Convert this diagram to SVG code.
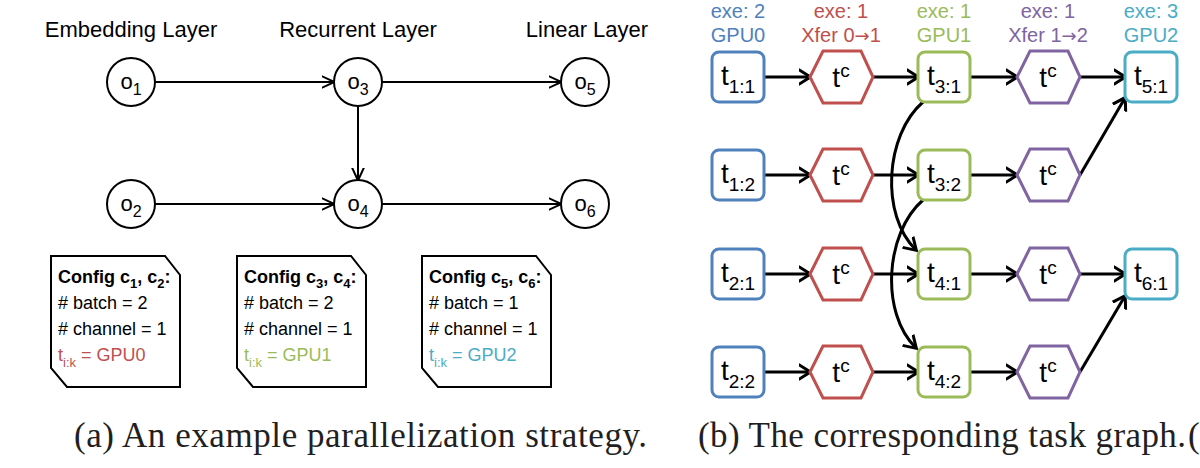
<svg xmlns="http://www.w3.org/2000/svg" width="1200" height="468" viewBox="0 0 1200 468">
<style>
.lbl{font-family:"Liberation Sans",Arial,sans-serif;font-size:22px;fill:#000;text-anchor:middle;}
.circ{fill:#fff;stroke:#000;stroke-width:2;}
.otxt{font-family:"Liberation Sans",Arial,sans-serif;font-size:22px;fill:#000;text-anchor:middle;}
.cfg{fill:#fff;stroke:#000;stroke-width:2;}
.ctxt{font-family:"Liberation Sans",Arial,sans-serif;font-size:18px;fill:#000;}
.ctxt.red{fill:#c0504d;}
.ctxt.green{fill:#9bbb59;}
.ctxt.cyan{fill:#4bacc6;}
.lc{fill:none;stroke:#000;stroke-width:2;}
.rc{fill:none;stroke:#000;stroke-width:3;}
.box{fill:#fff;stroke-width:3;}
.ttxt{font-family:"Liberation Sans",Arial,sans-serif;font-size:28px;fill:#000;text-anchor:middle;}
.top{font-family:"Liberation Sans",Arial,sans-serif;font-size:20px;text-anchor:middle;}
.arr{font-family:"DejaVu Sans",sans-serif;font-size:18px;}
.cap{font-family:"Liberation Serif","Times New Roman",serif;font-size:35px;fill:#231f20;}
</style>
<defs>
<marker id="la" markerUnits="userSpaceOnUse" markerWidth="16" markerHeight="20" viewBox="0 0 16 20" refX="12.5" refY="10" orient="auto">
<path d="M0,4 L13,10 L0,16" fill="none" stroke="#000" stroke-width="2"/>
</marker>
<marker id="ra" markerUnits="userSpaceOnUse" markerWidth="16" markerHeight="20" viewBox="0 0 16 20" refX="11.5" refY="10" orient="auto">
<path d="M0,2.5 L12,10 L0,17.5" fill="none" stroke="#000" stroke-width="3"/>
</marker>
</defs>
<rect width="1200" height="468" fill="#fff"/>

<!-- Left panel labels -->
<text class="lbl" x="131" y="37">Embedding Layer</text>
<text class="lbl" x="358" y="37">Recurrent Layer</text>
<text class="lbl" x="587" y="37">Linear Layer</text>

<g id="left-connectors">
<line class="lc" x1="155" y1="82" x2="334" y2="82" marker-end="url(#la)"/>
<line class="lc" x1="382" y1="82" x2="561" y2="82" marker-end="url(#la)"/>
<line class="lc" x1="155" y1="204" x2="334" y2="204" marker-end="url(#la)"/>
<line class="lc" x1="382" y1="204" x2="561" y2="204" marker-end="url(#la)"/>
<line class="lc" x1="358" y1="106" x2="358" y2="180" marker-end="url(#la)"/>
</g>

<g id="o1"><circle class="circ" cx="131" cy="82" r="24"/><text class="otxt" x="131" y="89">o<tspan font-size="16" dy="6">1</tspan></text></g>
<g id="o2"><circle class="circ" cx="131" cy="204" r="24"/><text class="otxt" x="131" y="211">o<tspan font-size="16" dy="6">2</tspan></text></g>
<g id="o3"><circle class="circ" cx="358" cy="82" r="24"/><text class="otxt" x="358" y="89">o<tspan font-size="16" dy="6">3</tspan></text></g>
<g id="o4"><circle class="circ" cx="358" cy="204" r="24"/><text class="otxt" x="358" y="211">o<tspan font-size="16" dy="6">4</tspan></text></g>
<g id="o5"><circle class="circ" cx="585" cy="82" r="24"/><text class="otxt" x="585" y="89">o<tspan font-size="16" dy="6">5</tspan></text></g>
<g id="o6"><circle class="circ" cx="585" cy="204" r="24"/><text class="otxt" x="585" y="211">o<tspan font-size="16" dy="6">6</tspan></text></g>

<g id="config1">
<path class="cfg" d="M51,256 H165 L180,275 V387 H67 L51,368 Z"/>
<text class="ctxt" x="58" y="283" font-weight="bold">Config c<tspan font-size="13" dy="5">1</tspan><tspan dy="-5">, c</tspan><tspan font-size="13" dy="5">2</tspan><tspan dy="-5">:</tspan></text>
<text class="ctxt" x="58" y="309"># batch = 2</text>
<text class="ctxt" x="58" y="335"># channel = 1</text>
<text class="ctxt red" x="58" y="361">t<tspan font-size="13" dy="6">i:k</tspan><tspan dy="-6"> = GPU0</tspan></text>
</g>
<g id="config2">
<path class="cfg" d="M237,256 H351 L366,275 V387 H253 L237,368 Z"/>
<text class="ctxt" x="244" y="283" font-weight="bold">Config c<tspan font-size="13" dy="5">3</tspan><tspan dy="-5">, c</tspan><tspan font-size="13" dy="5">4</tspan><tspan dy="-5">:</tspan></text>
<text class="ctxt" x="244" y="309"># batch = 2</text>
<text class="ctxt" x="244" y="335"># channel = 1</text>
<text class="ctxt green" x="244" y="361">t<tspan font-size="13" dy="6">i:k</tspan><tspan dy="-6"> = GPU1</tspan></text>
</g>
<g id="config3">
<path class="cfg" d="M422,256 H536 L551,275 V387 H438 L422,368 Z"/>
<text class="ctxt" x="429" y="283" font-weight="bold">Config c<tspan font-size="13" dy="5">5</tspan><tspan dy="-5">, c</tspan><tspan font-size="13" dy="5">6</tspan><tspan dy="-5">:</tspan></text>
<text class="ctxt" x="429" y="309"># batch = 1</text>
<text class="ctxt" x="429" y="335"># channel = 1</text>
<text class="ctxt cyan" x="429" y="361">t<tspan font-size="13" dy="6">i:k</tspan><tspan dy="-6"> = GPU2</tspan></text>
</g>

<!-- Right panel header labels -->
<g id="headers">
<text class="top" x="738" y="18" fill="#4f81bd">exe: 2</text>
<text class="top" x="738" y="42" fill="#4f81bd">GPU0</text>
<text class="top" x="841" y="18" fill="#c0504d">exe: 1</text>
<text class="top" x="841" y="42" fill="#c0504d">Xfer 0<tspan class="arr">→</tspan>1</text>
<text class="top" x="944" y="18" fill="#9bbb59">exe: 1</text>
<text class="top" x="944" y="42" fill="#9bbb59">GPU1</text>
<text class="top" x="1048" y="18" fill="#8064a2">exe: 1</text>
<text class="top" x="1048" y="42" fill="#8064a2">Xfer 1<tspan class="arr">→</tspan>2</text>
<text class="top" x="1151" y="18" fill="#4bacc6">exe: 3</text>
<text class="top" x="1151" y="42" fill="#4bacc6">GPU2</text>
</g>

<g id="right-connectors">
<line class="rc" x1="764" y1="77" x2="810" y2="77" marker-end="url(#ra)"/>
<line class="rc" x1="873" y1="77" x2="918" y2="77" marker-end="url(#ra)"/>
<line class="rc" x1="971" y1="77" x2="1017" y2="77" marker-end="url(#ra)"/>
<line class="rc" x1="1080" y1="77" x2="1125" y2="77" marker-end="url(#ra)"/>
<line class="rc" x1="764" y1="175" x2="810" y2="175" marker-end="url(#ra)"/>
<line class="rc" x1="873" y1="175" x2="918" y2="175" marker-end="url(#ra)"/>
<line class="rc" x1="971" y1="175" x2="1017" y2="175" marker-end="url(#ra)"/>
<line class="rc" x1="1080" y1="175" x2="1125" y2="98" marker-end="url(#ra)"/>
<line class="rc" x1="764" y1="274" x2="810" y2="274" marker-end="url(#ra)" stroke-width="3.5"/>
<line class="rc" x1="873" y1="274" x2="918" y2="274" marker-end="url(#ra)" stroke-width="3.5"/>
<line class="rc" x1="971" y1="274" x2="1017" y2="274" marker-end="url(#ra)" stroke-width="3.5"/>
<line class="rc" x1="1080" y1="274" x2="1125" y2="274" marker-end="url(#ra)" stroke-width="3.5"/>
<line class="rc" x1="764" y1="372" x2="810" y2="372" marker-end="url(#ra)" stroke-width="3.5"/>
<line class="rc" x1="873" y1="372" x2="918" y2="372" marker-end="url(#ra)" stroke-width="3.5"/>
<line class="rc" x1="971" y1="372" x2="1017" y2="372" marker-end="url(#ra)"/>
<line class="rc" x1="1080" y1="372" x2="1125" y2="296" marker-end="url(#ra)"/>
<path class="rc" d="M923,102 C885,135 880,215 916,250" marker-end="url(#ra)"/>
<path class="rc" d="M923,200 C885,233 880,313 916,348" marker-end="url(#ra)"/>
</g>

<!-- Row 1 -->
<g id="t1_1"><rect class="box" x="712" y="52" width="52" height="50" rx="7" stroke="#4f81bd"/><text class="ttxt" x="738" y="85">t<tspan font-size="19" dy="8">1:1</tspan></text></g>
<g id="x01_1"><polygon class="box" points="810,77 823,51 861,51 873,77 861,103 823,103" stroke="#c0504d"/><text class="ttxt" x="841" y="87">t<tspan font-size="19" dy="-10">c</tspan></text></g>
<g id="t3_1"><rect class="box" x="918" y="52" width="52" height="50" rx="7" stroke="#9bbb59"/><text class="ttxt" x="944" y="85">t<tspan font-size="19" dy="8">3:1</tspan></text></g>
<g id="x12_1"><polygon class="box" points="1017,77 1030,51 1068,51 1080,77 1068,103 1030,103" stroke="#8064a2"/><text class="ttxt" x="1048" y="87">t<tspan font-size="19" dy="-10">c</tspan></text></g>
<g id="t5_1"><rect class="box" x="1125" y="52" width="52" height="50" rx="7" stroke="#4bacc6"/><text class="ttxt" x="1151" y="85">t<tspan font-size="19" dy="8">5:1</tspan></text></g>

<!-- Row 2 -->
<g id="t1_2"><rect class="box" x="712" y="150" width="52" height="50" rx="7" stroke="#4f81bd"/><text class="ttxt" x="738" y="183">t<tspan font-size="19" dy="8">1:2</tspan></text></g>
<g id="x01_2"><polygon class="box" points="810,175 823,149 861,149 873,175 861,201 823,201" stroke="#c0504d"/><text class="ttxt" x="841" y="185">t<tspan font-size="19" dy="-10">c</tspan></text></g>
<g id="t3_2"><rect class="box" x="918" y="150" width="52" height="50" rx="7" stroke="#9bbb59"/><text class="ttxt" x="944" y="183">t<tspan font-size="19" dy="8">3:2</tspan></text></g>
<g id="x12_2"><polygon class="box" points="1017,175 1030,149 1068,149 1080,175 1068,201 1030,201" stroke="#8064a2"/><text class="ttxt" x="1048" y="185">t<tspan font-size="19" dy="-10">c</tspan></text></g>

<!-- Row 3 -->
<g id="t2_1"><rect class="box" x="712" y="249" width="52" height="50" rx="7" stroke="#4f81bd"/><text class="ttxt" x="738" y="282">t<tspan font-size="19" dy="8">2:1</tspan></text></g>
<g id="x01_3"><polygon class="box" points="810,274 823,248 861,248 873,274 861,300 823,300" stroke="#c0504d"/><text class="ttxt" x="841" y="284">t<tspan font-size="19" dy="-10">c</tspan></text></g>
<g id="t4_1"><rect class="box" x="918" y="249" width="52" height="50" rx="7" stroke="#9bbb59"/><text class="ttxt" x="944" y="282">t<tspan font-size="19" dy="8">4:1</tspan></text></g>
<g id="x12_3"><polygon class="box" points="1017,274 1030,248 1068,248 1080,274 1068,300 1030,300" stroke="#8064a2"/><text class="ttxt" x="1048" y="284">t<tspan font-size="19" dy="-10">c</tspan></text></g>
<g id="t6_1"><rect class="box" x="1125" y="249" width="52" height="50" rx="7" stroke="#4bacc6"/><text class="ttxt" x="1151" y="282">t<tspan font-size="19" dy="8">6:1</tspan></text></g>

<!-- Row 4 -->
<g id="t2_2"><rect class="box" x="712" y="347" width="52" height="50" rx="7" stroke="#4f81bd"/><text class="ttxt" x="738" y="380">t<tspan font-size="19" dy="8">2:2</tspan></text></g>
<g id="x01_4"><polygon class="box" points="810,372 823,346 861,346 873,372 861,398 823,398" stroke="#c0504d"/><text class="ttxt" x="841" y="382">t<tspan font-size="19" dy="-10">c</tspan></text></g>
<g id="t4_2"><rect class="box" x="918" y="347" width="52" height="50" rx="7" stroke="#9bbb59"/><text class="ttxt" x="944" y="380">t<tspan font-size="19" dy="8">4:2</tspan></text></g>
<g id="x12_4"><polygon class="box" points="1017,372 1030,346 1068,346 1080,372 1068,398 1030,398" stroke="#8064a2"/><text class="ttxt" x="1048" y="382">t<tspan font-size="19" dy="-10">c</tspan></text></g>

<!-- Captions -->
<text class="cap" x="74" y="447" textLength="573" lengthAdjust="spacing">(a) An example parallelization strategy.</text>
<text class="cap" x="698" y="447" textLength="488" lengthAdjust="spacing">(b) The corresponding task graph.</text>
<text class="cap" x="1188" y="447">(</text>
</svg>
